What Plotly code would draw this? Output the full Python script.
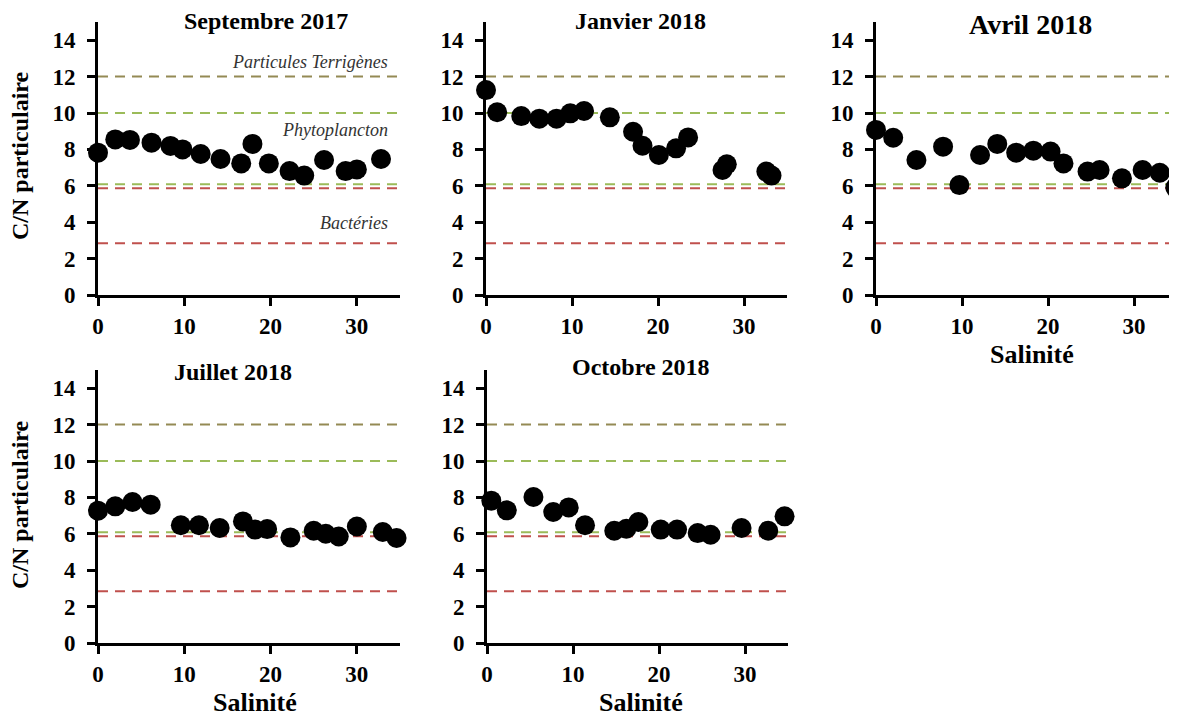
import plotly.graph_objects as go

# --- data (salinity, particulate C/N) ---
sep17_sal = [0, 2.0, 3.7, 6.2, 8.4, 9.8, 11.9, 14.2, 16.6, 17.9, 19.8, 22.2, 23.9, 26.2, 28.7, 30.0, 32.8]
sep17_cn = [7.82, 8.55, 8.52, 8.37, 8.19, 8.0, 7.75, 7.47, 7.23, 8.3, 7.23, 6.81, 6.56, 7.42, 6.81, 6.9, 7.47]

jan18_sal = [0, 1.3, 4.1, 6.2, 8.2, 9.8, 11.4, 14.4, 17.1, 18.2, 20.1, 22.1, 23.5, 27.5, 28.0, 32.6, 33.2]
jan18_cn = [11.26, 10.04, 9.83, 9.69, 9.69, 9.98, 10.11, 9.76, 8.97, 8.2, 7.69, 8.06, 8.66, 6.87, 7.18, 6.78, 6.56]

avr18_sal = [0, 2.0, 4.7, 7.8, 9.7, 12.1, 14.1, 16.3, 18.3, 20.3, 21.8, 24.6, 26.0, 28.6, 31.0, 33.0, 34.8]
avr18_cn = [9.07, 8.64, 7.42, 8.15, 6.04, 7.69, 8.3, 7.82, 7.93, 7.88, 7.23, 6.78, 6.87, 6.41, 6.87, 6.72, 5.9]

jul18_sal = [0, 2.0, 4.0, 6.1, 9.6, 11.7, 14.1, 16.8, 18.2, 19.6, 22.3, 25.0, 26.4, 27.9, 30.0, 33.0, 34.6]
jul18_cn = [7.27, 7.51, 7.75, 7.6, 6.47, 6.47, 6.32, 6.68, 6.23, 6.26, 5.8, 6.17, 6.0, 5.85, 6.4, 6.1, 5.77]

oct18_sal = [0.5, 2.3, 5.4, 7.7, 9.5, 11.4, 14.8, 16.2, 17.6, 20.2, 22.1, 24.5, 26.0, 29.6, 32.7, 34.6]
oct18_cn = [7.82, 7.29, 8.02, 7.2, 7.45, 6.47, 6.17, 6.28, 6.65, 6.23, 6.23, 6.04, 5.95, 6.32, 6.17, 6.96]

titles = ["Septembre 2017", "Janvier 2018", "Avril 2018", "Juillet 2018", "Octobre 2018"]

# reference C/N levels (dashed lines)
ref_levels = [12.0, 10.0, 6.08, 5.87, 2.85]
ref_colors = ["rgb(148,138,84)", "rgb(155,187,89)", "rgb(155,187,89)", "rgb(192,80,77)", "rgb(192,80,77)"]
ref_labels = ["Particules Terrigènes", "Phytoplancton", "Bactéries"]
ref_label_y = [12.8, 9.05, 3.97]

x_ticks = [0, 10, 20, 30]

# the page body has an 8px margin, so the figure is drawn 8px smaller
OFF = 8
W, H = 1177 - OFF, 718 - OFF
FONT = "Liberation Serif"


def px_x(p):
    return (p - OFF) / W


def px_y(p):
    return 1 - (p - OFF) / H


# panel boxes in screen pixels: (left, right, top, bottom)
boxes = [
    (98, 400, 22, 295),
    (486, 787, 22, 295),
    (876, 1177, 22, 295),
    (98, 400, 370, 643),
    (487, 788, 370, 643),
]
series = [
    (sep17_sal, sep17_cn),
    (jan18_sal, jan18_cn),
    (avr18_sal, avr18_cn),
    (jul18_sal, jul18_cn),
    (oct18_sal, oct18_cn),
]

fig = go.Figure()
layout = dict(
    width=W, height=H,
    margin=dict(l=0, r=0, t=0, b=0, autoexpand=False),
    paper_bgcolor="white", plot_bgcolor="white",
    showlegend=False,
    font=dict(family=FONT, color="black"),
    shapes=[], annotations=[],
)

for i, ((l, r, t, b), (sx, sy)) in enumerate(zip(boxes, series)):
    n = "" if i == 0 else str(i + 1)
    xa, ya = "x" + n, "y" + n
    layout["xaxis" + n] = dict(
        domain=[px_x(l), min(px_x(r), 1)], anchor=ya, range=[0, 35], automargin=False,
        tickvals=x_ticks, ticks="outside", ticklen=8, tickwidth=3, tickcolor="black",
        showline=True, linewidth=3, linecolor="black", showgrid=False, zeroline=False,
        tickfont=dict(family=FONT, size=23, color="black", weight="bold"),
        ticklabelstandoff=0,
    )
    layout["yaxis" + n] = dict(
        domain=[px_y(b), px_y(t)], anchor=xa, range=[0, 15], automargin=False,
        tickvals=list(range(0, 15, 2)), ticks="outside", ticklen=8, tickwidth=3, tickcolor="black",
        showline=True, linewidth=3, linecolor="black", showgrid=False, zeroline=False,
        tickfont=dict(family=FONT, size=23, color="black", weight="bold"),
        ticklabelstandoff=7,
    )
    for lv, col in zip(ref_levels, ref_colors):
        layout["shapes"].append(dict(
            type="line", xref=xa, yref=ya, x0=0, x1=35, y0=lv, y1=lv,
            line=dict(color=col, width=2, dash="10px,7px"), layer="below",
        ))
    fig.add_trace(go.Scatter(
        x=sx, y=sy, mode="markers", xaxis=xa, yaxis=ya, cliponaxis=False,
        marker=dict(size=20, color="black"),
    ))
    # panel title
    big = i == 2
    layout["annotations"].append(dict(
        text="<b>%s</b>" % titles[i], xref="paper", yref="paper",
        x=px_x([266, 640, 1030, 233, 641][i]), y=px_y([21, 21, 25, 372, 367][i]),
        xanchor="center", yanchor="middle", showarrow=False,
        font=dict(family=FONT, size=28 if big else 24, color="black"),
    ))

# y axis titles
for yc in [156, 505]:
    layout["annotations"].append(dict(
        text="<b>C/N particulaire</b>", xref="paper", yref="paper",
        x=px_x(20), y=px_y(yc), textangle=-90, xanchor="center", yanchor="middle",
        showarrow=False, font=dict(family=FONT, size=24, color="black"),
    ))

# x axis titles
for xc, yc in [(1032, 354), (255, 702), (641, 702)]:
    layout["annotations"].append(dict(
        text="<b>Salinité</b>", xref="paper", yref="paper",
        x=px_x(xc), y=px_y(yc), xanchor="center", yanchor="middle",
        showarrow=False, font=dict(family=FONT, size=26, color="black"),
    ))

# reference labels in first panel
for txt, yv in zip(ref_labels, ref_label_y):
    layout["annotations"].append(dict(
        text=txt, xref="x", yref="y", x=33.8, y=yv, xanchor="right", yanchor="middle",
        showarrow=False, font=dict(family=FONT, size=18, color="#333333", style="italic"),
    ))

fig.update_layout(**layout)
fig.write_html("out.html")
